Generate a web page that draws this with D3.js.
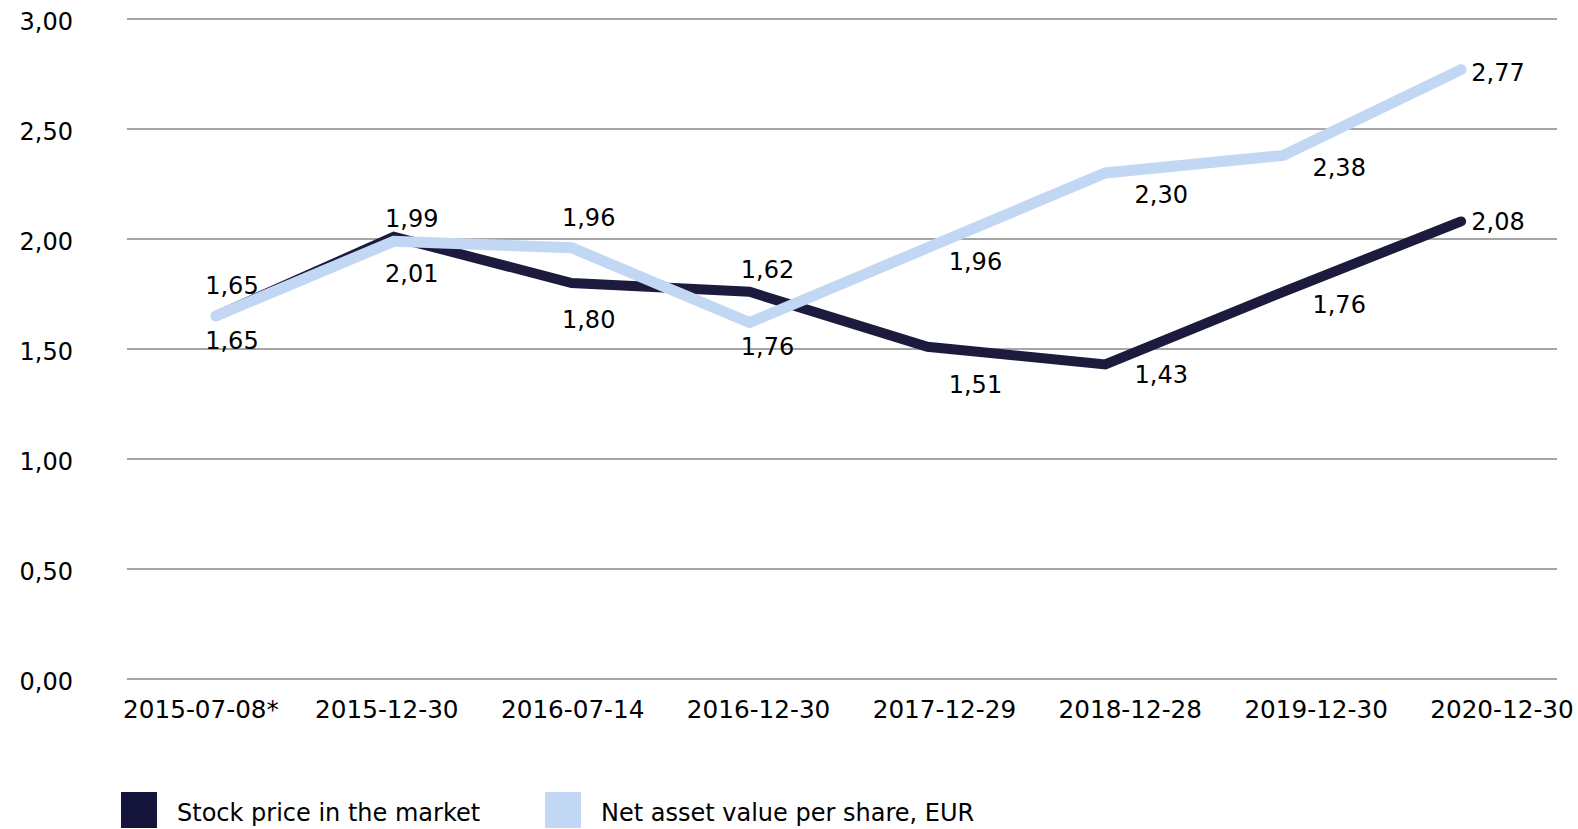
<!DOCTYPE html>
<html>
<head>
<meta charset="utf-8">
<script src="https://cdn.jsdelivr.net/npm/d3@7"></script>
<style>
  body { margin: 0; background: #fff; }
  svg text { font-family: "DejaVu Sans", Verdana, sans-serif; font-size: 24px; fill: #000; }
  .x-label { font-size: 24.7px; }
</style>
</head>
<body>
<div id="chart"></div>
<script>
// data
var dates = ["2015-07-08*", "2015-12-30", "2016-07-14", "2016-12-30",
             "2017-12-29", "2018-12-28", "2019-12-30", "2020-12-30"];
var stockPrice = [1.65, 2.01, 1.80, 1.76, 1.51, 1.43, 1.76, 2.08];
var navPerShare = [1.65, 1.99, 1.96, 1.62, 1.96, 2.30, 2.38, 2.77];
var yTicks = [0, 0.5, 1, 1.5, 2, 2.5, 3];
var seriesNames = ["Stock price in the market", "Net asset value per share, EUR"];

// label nudges (px, relative to each point)
var stockLabelNudge = [[16, 24], [18, 37], [17, 36], [18, 55], [48, 38], [56, 10], [56, 13], [37, 0]];
var navLabelNudge = [[16, -31], [18, -23], [17, -30], [18, -53], [48, 14], [56, 21], [56, 12], [37, 3]];

var W = 1578, H = 829;
var plotLeft = 127, plotRight = 1550, plotTop = 19, plotBottom = 679;
var gridRight = 1557;

var locale = d3.formatLocale({decimal: ",", thousands: " ", grouping: [3], currency: ["", " EUR"]});
var fmt = locale.format(".2f");

var svg = d3.select("#chart")
    .append("svg")
    .attr("width", W)
    .attr("height", H);

var x = d3.scaleBand()
    .domain(dates)
    .range([plotLeft, plotRight]);

// category labels sit on a slightly wider spacing than the points
var xLabel = d3.scalePoint()
    .domain(dates)
    .range([201, 1502]);

var y = d3.scaleLinear()
    .domain([0, 3])
    .range([plotBottom, plotTop]);

// gridlines
svg.append("g")
    .selectAll("line")
    .data(yTicks)
    .enter()
    .append("line")
        .attr("x1", plotLeft)
        .attr("x2", gridRight)
        .attr("y1", function(d) { return y(d); })
        .attr("y2", function(d) { return y(d); })
        .attr("stroke", "#a6a6a6")
        .attr("stroke-width", 2);

// y labels
svg.append("g")
    .selectAll("text")
    .data(yTicks)
    .enter()
    .append("text")
        .attr("x", 73)
        .attr("y", function(d) { return y(d); })
        .attr("dy", "0.45em")
        .style("text-anchor", "end")
        .text(function(d) { return fmt(d); });

// x labels
svg.append("g")
    .selectAll("text")
    .data(dates)
    .enter()
    .append("text")
        .attr("class", "x-label")
        .attr("x", function(d) { return xLabel(d); })
        .attr("y", 709)
        .attr("dy", "0.36em")
        .style("text-anchor", "middle")
        .text(function(d) { return d; });

var cx = function(i) { return x(dates[i]) + x.bandwidth() / 2; };

var line = d3.line()
    .x(function(d, i) { return cx(i); })
    .y(function(d) { return y(d); });

var series = [
    {name: seriesNames[0], values: stockPrice, nudge: stockLabelNudge, color: "#1d1b3d", width: 10},
    {name: seriesNames[1], values: navPerShare, nudge: navLabelNudge, color: "#c2d7f4", width: 11}
];

series.forEach(function(s) {
    svg.append("path")
        .datum(s.values)
        .attr("d", line)
        .attr("fill", "none")
        .attr("stroke", s.color)
        .attr("stroke-width", s.width)
        .attr("stroke-linecap", "round")
        .attr("stroke-linejoin", "miter");
});

// data labels
series.forEach(function(s) {
    svg.append("g")
        .selectAll("text")
        .data(s.values)
        .enter()
        .append("text")
            .attr("x", function(d, i) { return cx(i) + s.nudge[i][0]; })
            .attr("y", function(d, i) { return y(d) + s.nudge[i][1]; })
            .attr("dy", "0.36em")
            .style("text-anchor", "middle")
            .text(function(d) { return fmt(d); });
});

// legend
var legendX = [121, 545];
var legend = svg.append("g")
    .selectAll("g")
    .data(series)
    .enter()
    .append("g")
        .attr("transform", function(d, i) { return "translate(" + legendX[i] + ",792)"; });

legend.append("rect")
    .attr("width", 36)
    .attr("height", 36)
    .attr("fill", function(d, i) { return i == 0 ? "#15153b" : d.color; });

legend.append("text")
    .attr("x", 56)
    .attr("y", 20)
    .attr("dy", "0.36em")
    .text(function(d) { return d.name; });
</script>
</body>
</html>
